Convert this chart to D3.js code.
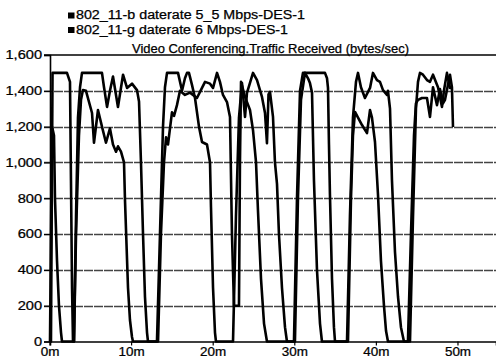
<!DOCTYPE html>
<html>
<head>
<meta charset="utf-8">
<script src="https://cdn.jsdelivr.net/npm/d3@7"></script>
<style>
  body { margin: 0; background: #fff; }
  text { font-family: "Liberation Sans", Arial, sans-serif; fill: #000; stroke: #000; stroke-width: 0.25px; }
</style>
</head>
<body>
<div id="chart"></div>
<script>
// minutes / bytes per sec
var b_time = [0, 0.12, 0.31, 2.08, 2.45, 2.57, 2.70, 2.82, 2.94, 3.19, 3.43, 3.68, 3.92, 6.37, 6.62, 6.99, 7.35, 7.72, 8.33, 8.95, 9.44, 10.05, 10.66, 10.91, 11.15, 11.40, 11.64, 11.89, 12.01,
  13.11, 13.48, 13.85, 14.09, 14.34, 15.69, 16.18, 16.54, 16.79, 17.03, 17.40, 17.77, 18.26, 18.63, 19.24, 19.61, 19.73, 19.98, 20.22, 20.34,
  22.43, 22.79, 23.16, 23.53, 23.90, 24.14, 24.88, 25.37, 25.98, 26.35, 26.59, 26.78, 26.96, 27.33, 27.57, 27.82, 28.06, 28.43, 28.80, 29.04,
  29.90, 30.27, 30.64, 31.00, 33.70, 33.95, 34.07, 34.19, 34.31, 34.56, 34.80, 34.93,
  36.40, 36.76, 37.13, 37.50, 37.75, 38.11, 38.60, 39.22, 39.58, 40.07, 40.44, 40.81, 41.30, 41.42, 41.67, 41.91, 42.28, 42.65, 43.01, 43.38,
  44.12, 44.49, 44.85, 45.10, 45.34, 45.71, 46.20, 46.57, 46.94, 47.55, 48.04, 48.28, 48.65, 49.02, 49.39];
var b_value = [0, 0, 1500, 1500, 1450, 900, 300, 0, 0, 700, 1250, 1420, 1500, 1500, 1420, 1310, 1400, 1480, 1310, 1490, 1416, 1440, 1404, 1340, 1000, 600, 250, 50, 0,
  0, 600, 1200, 1420, 1500, 1500, 1400, 1470, 1500, 1500, 1433, 1360, 1200, 1114, 1100, 1000, 750, 300, 50, 0,
  0, 700, 1250, 1443, 1254, 1388, 1500, 1460, 1366, 1276, 1108, 1380, 1394, 1254, 1000, 880, 600, 300, 80, 0,
  0, 800, 1400, 1500, 1500, 1470, 1416, 1100, 820, 350, 80, 0,
  0, 700, 1250, 1450, 1500, 1420, 1360, 1416, 1500, 1460, 1450, 1404, 1377, 1400, 1300, 900, 500, 250, 80, 0,
  0, 700, 1300, 1450, 1500, 1490, 1460, 1450, 1490, 1420, 1310, 1400, 1500, 1416, 1416];

var g_time = [0, 0.12, 0.25, 0.49, 0.61, 0.86, 1.10, 1.35, 1.47, 2.94, 3.19, 3.55, 3.80, 4.04, 4.41, 5.15, 5.39, 5.88, 6.37, 6.86, 7.35, 7.72, 8.09, 8.33, 8.70, 9.07, 9.19, 9.56, 9.80, 10.05, 10.17,
  13.24, 13.60, 13.97, 14.22, 14.46, 14.95, 15.20, 15.56, 15.93, 16.54, 17.16, 18.01, 18.63, 19.00, 19.61, 19.98, 20.47, 20.83, 21.20, 21.69, 22.06, 22.30, 22.55, 23.16,
  23.28, 23.41, 23.90, 24.51, 24.88, 25.25, 25.49, 25.86, 26.23, 26.59,
  30.02, 30.39, 30.76, 31.25, 31.62, 31.86, 32.11, 32.35, 32.72, 33.09, 33.33,
  36.52, 36.89, 37.13, 37.38, 37.75, 38.24, 38.85, 39.22, 39.46, 39.83, 40.20, 40.56, 40.93, 41.18, 41.42,
  43.87, 44.24, 44.61, 44.85, 45.10, 45.59, 46.20, 46.57, 46.94, 47.43, 47.79, 48.16, 48.41, 49.02, 49.26, 49.39];
var g_value = [0, 600, 1200, 1150, 800, 450, 200, 50, 0, 0, 600, 1150, 1350, 1404, 1400, 1276, 1110, 1293, 1200, 1110, 1190, 1100, 1060, 1090, 1060, 1000, 790, 300, 120, 25, 0,
  0, 600, 1000, 1140, 1100, 1280, 1260, 1320, 1400, 1377, 1390, 1360, 1416, 1450, 1440, 1416, 1500, 1450, 1377, 1337, 1254, 600, 200, 200,
  1000, 1450, 1366, 1293, 1180, 1000, 730, 350, 100, 0,
  0, 800, 1350, 1500, 1470, 1443, 1390, 900, 400, 100, 0,
  0, 800, 1150, 1282, 1250, 1209, 1164, 1293, 1250, 1114, 818, 450, 200, 60, 0,
  0, 600, 1150, 1330, 1349, 1360, 1360, 1254, 1420, 1320, 1410, 1330, 1350, 1490, 1420, 1198];

var legend_labels = ["802_11-b daterate 5_5 Mbps-DES-1", "802_11-g daterate 6 Mbps-DES-1"];
var chart_title = "Video Conferencing.Traffic Received (bytes/sec)";
var y_ticks = [0, 200, 400, 600, 800, 1000, 1200, 1400, 1600];
var x_ticks = [0, 10, 20, 30, 40, 50];

var width = 496, height = 362;
var margin = {top: 55, right: 0, bottom: 20.5, left: 50};

var svg = d3.select("#chart").append("svg")
    .attr("width", width)
    .attr("height", height);

var x = d3.scaleLinear()
    .domain([0, 54.66])
    .range([margin.left, width - margin.right]);

var y = d3.scaleLinear()
    .domain([0, 1600])
    .range([height - margin.bottom, margin.top]);

// grid lines
svg.append("g")
    .selectAll("line")
    .data(y_ticks.filter(function(d) { return d > 0 && d < 1600; }))
    .enter().append("line")
    .attr("x1", margin.left - 6)
    .attr("x2", width)
    .attr("y1", function(d) { return Math.round(y(d)) + 0.5; })
    .attr("y2", function(d) { return Math.round(y(d)) + 0.5; })
    .style("stroke", "#444")
    .style("stroke-dasharray", "9,1")
    .style("stroke-width", 1.3);

// top frame line
svg.append("line")
    .attr("x1", margin.left - 6)
    .attr("x2", width)
    .attr("y1", y(1600))
    .attr("y2", y(1600))
    .style("stroke", "#000")
    .style("stroke-width", 1.6);

var yAxis = svg.append("g")
    .attr("transform", "translate(" + margin.left + ",0)")
    .call(d3.axisLeft(y).tickValues(y_ticks).tickSize(6).tickFormat(d3.format(",")));

var xAxis = svg.append("g")
    .attr("transform", "translate(0," + y(0) + ")")
    .call(d3.axisBottom(x).tickValues(x_ticks).tickSize(4).tickFormat(function(d) { return d + "m"; }));

[yAxis, xAxis].forEach(function(ax) {
    ax.select(".domain").style("stroke", "#000").style("stroke-width", 1.6);
    ax.selectAll(".tick line").style("stroke", "#000").style("stroke-width", 1.2);
    ax.selectAll("text")
        .style("font-family", "'Liberation Sans', Arial, sans-serif")
        .style("font-size", "12px")
        .style("fill", "#000");
});
// the scanned labels are a little wider than plain Arial
yAxis.selectAll("text").attr("x", -6.5).attr("transform", "scale(1.22,1)");
xAxis.selectAll("text").attr("y", 5.5).attr("transform", "scale(1.12,1)")
    .attr("x", 0);
xAxis.selectAll(".tick").each(function(d) {
    d3.select(this).attr("transform", "translate(" + x(d) + ",0)");
});

// series lines
var line = d3.line()
    .x(function(d) { return x(d[0]); })
    .y(function(d) { return y(d[1]); });

var series = [d3.zip(b_time, b_value), d3.zip(g_time, g_value)];

svg.append("g")
    .selectAll("path")
    .data(series)
    .enter().append("path")
    .attr("d", line)
    .style("fill", "none")
    .style("stroke", "#000")
    .style("stroke-width", 2.6)
    .style("stroke-linejoin", "round");

// legend
var legend = svg.append("g")
    .selectAll("g")
    .data(legend_labels)
    .enter().append("g")
    .attr("transform", function(d, i) { return "translate(68," + (19 + i * 14.5) + ")"; });

legend.append("rect")
    .attr("x", 0)
    .attr("y", -6.5)
    .attr("width", 6.5)
    .attr("height", 6)
    .style("fill", "#000");

legend.append("text")
    .attr("x", 8)
    .attr("y", 0)
    .attr("textLength", function(d, i) { return i === 0 ? 229 : 212; })
    .attr("lengthAdjust", "spacingAndGlyphs")
    .style("font-size", "12px")
    .text(function(d) { return d; });

// title
svg.append("text")
    .attr("x", 132)
    .attr("y", 53)
    .attr("textLength", 277)
    .attr("lengthAdjust", "spacingAndGlyphs")
    .style("font-size", "12px")
    .text(chart_title);
</script>
</body>
</html>
